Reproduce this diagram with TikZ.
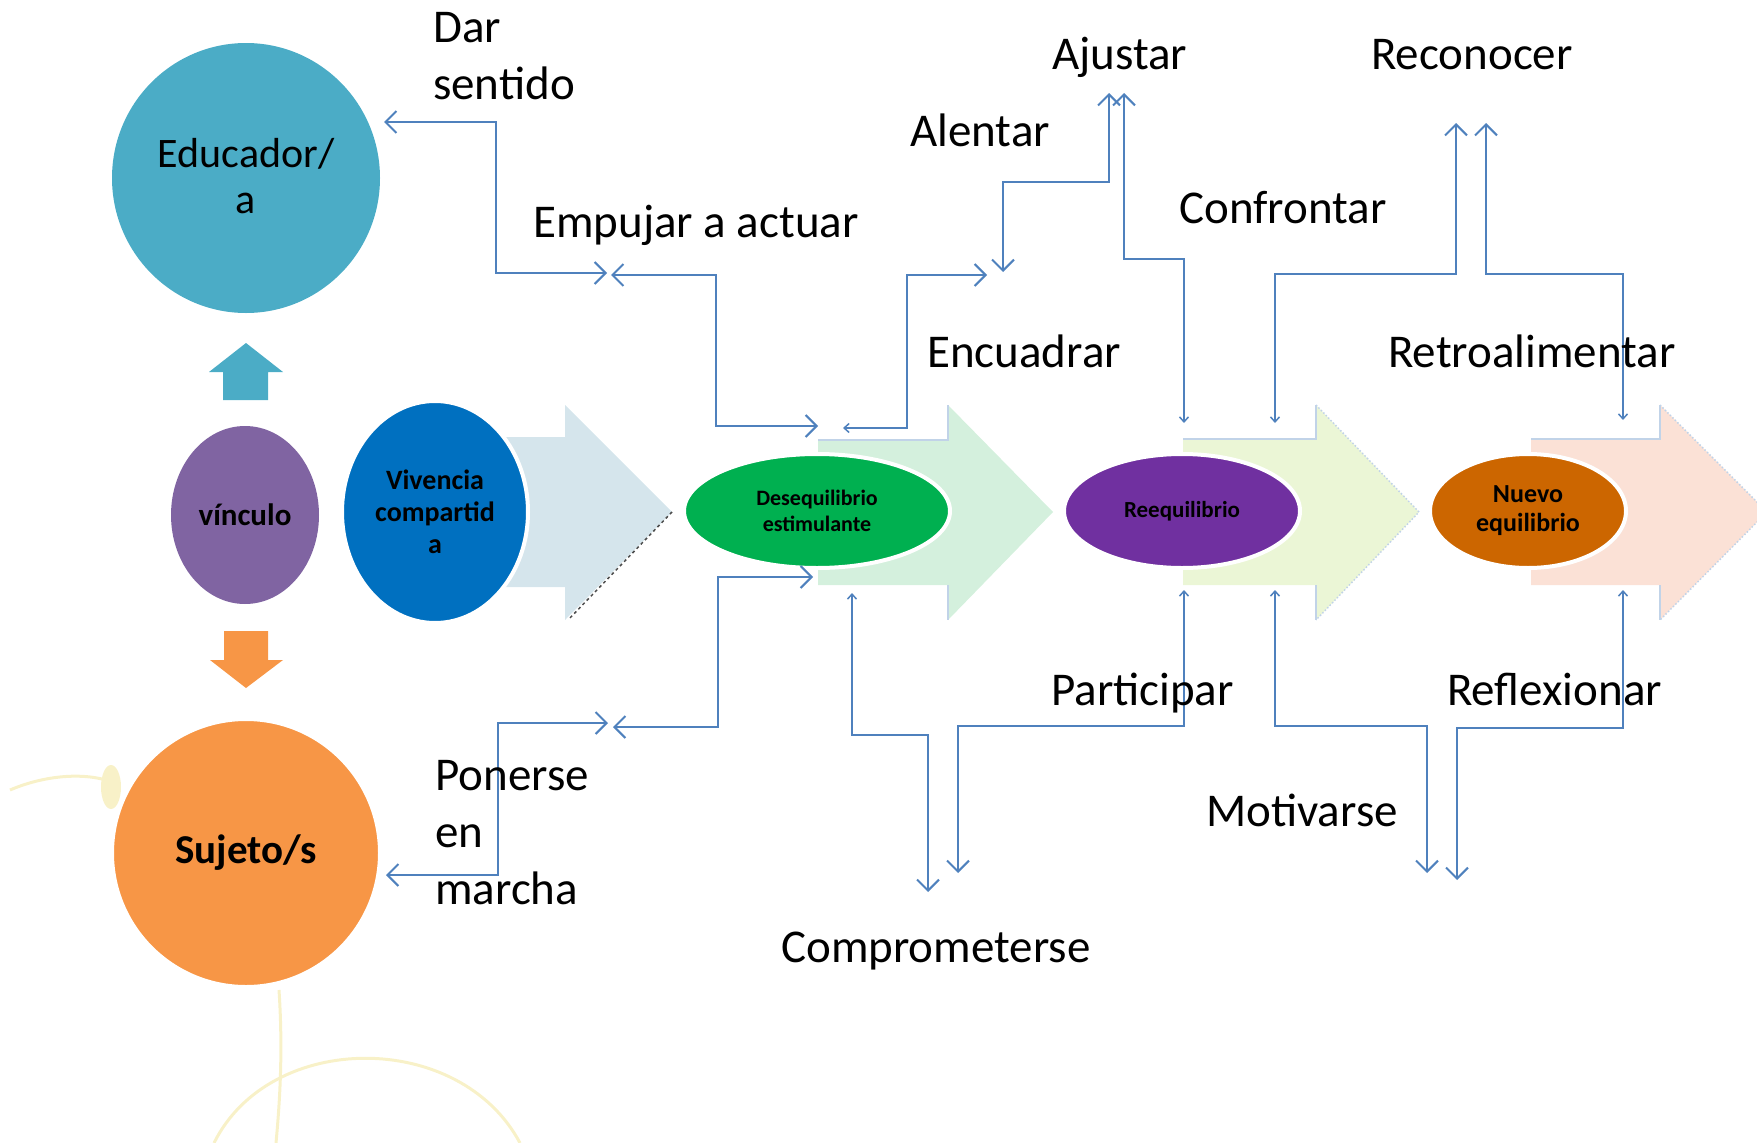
\documentclass[tikz,border=0pt]{standalone}
\usepackage{fontspec}
\setmainfont{Carlito}
\usepackage{tikz}
\usetikzlibrary{arrows.meta,shapes.geometric,calc}

\definecolor{linkblue}{HTML}{4F81BD}
\definecolor{educteal}{HTML}{4BACC6}
\definecolor{vincpurple}{HTML}{8064A2}
\definecolor{sujorange}{HTML}{F79646}
\definecolor{vivblue}{HTML}{0070C0}
\definecolor{desgreen}{HTML}{00B050}
\definecolor{reepurple}{HTML}{7030A0}
\definecolor{nuevobrown}{HTML}{CC6600}
\definecolor{chevA}{HTML}{D5E5EC}
\definecolor{chevB}{HTML}{D4F0DD}
\definecolor{chevC}{HTML}{EBF6D6}
\definecolor{chevD}{HTML}{FBE1D6}
\definecolor{faint}{HTML}{F8F1C8}

\tikzset{
  link/.style={draw=linkblue, line width=2pt},
  Big/.tip={Straight Barb[length=11pt,width=22pt,line width=2pt]},
  Tiny/.tip={Straight Barb[length=5pt,width=9pt,line width=1.5pt]},
  lbl/.style={font=\fontsize{47}{57}\selectfont, inner sep=0pt, anchor=base west, align=left},
  blob/.style={ellipse, draw=white, line width=4pt, inner sep=0pt, align=center},
  chev/.style={draw=linkblue!35, line width=1.5pt},
}

\begin{document}
\begin{tikzpicture}[x=1pt,y=-1pt]
    \useasboundingbox (0,0) rectangle (1757,1143);
    \clip (0,0) rectangle (1757,1143);
    % faint background strokes
    \draw[faint, line width=3pt] (10,790) .. controls (45,775) and (85,772) .. (112,782);
    \fill[faint] (111,787) ellipse (10pt and 22pt);
    \draw[faint, line width=3pt] (279,990) .. controls (283,1050) and (280,1100) .. (276,1143);
    \draw[faint, line width=3pt] (214,1143) .. controls (270,1030) and (460,1030) .. (520,1143);

    % block arrows
    \fill[chevA] (470,437) -- (565,437) -- (565,405) -- (672,512) -- (565,620) -- (565,587) -- (470,587) -- cycle;
    \draw[black!70, dashed, line width=1.5pt] (672,512) -- (568,620);
    \fill[chevB] (818,440) -- (948,440) -- (948,405) -- (1053,512) -- (948,620) -- (948,585) -- (818,585) -- cycle;
    \draw[chev] (818,440) -- (948,440) -- (948,405) (948,585) -- (948,620);
    \fill[chevC] (1183,439) -- (1316,439) -- (1316,405) -- (1419,512) -- (1316,620) -- (1316,585) -- (1183,585) -- cycle;
    \draw[chev] (1183,439) -- (1316,439) -- (1316,405) (1316,585) -- (1316,620);
    \draw[chev, dotted] (1316,405) -- (1419,512) -- (1316,620);
    \fill[chevD] (1531,439) -- (1660,439) -- (1660,405) -- (1767,512) -- (1660,620) -- (1660,585) -- (1531,585) -- cycle;
    \draw[chev] (1531,439) -- (1660,439) -- (1660,405) (1660,585) -- (1660,620);
    \draw[chev, dotted] (1660,405) -- (1767,512) -- (1660,620);

    % up and down arrows
    \fill[educteal] (223,400) -- (223,372) -- (209,372) -- (246,343) -- (283,372) -- (268,372) -- (268,400) -- cycle;
    \fill[sujorange] (224,631) -- (268,631) -- (268,660) -- (283,660) -- (246,688) -- (210,660) -- (224,660) -- cycle;

    % ellipses
    \node[blob, fill=educteal, minimum width=268pt, minimum height=270pt, draw=none] (educ) at (246,178) {};
    \node[font=\fontsize{42}{46}\selectfont, anchor=base, align=center, inner sep=0pt] (educT) at (246,213) {Educador/\\a};
    \node[blob, fill=vincpurple, minimum width=148pt, minimum height=178pt, draw=none,
          font=\fontsize{31}{36}\bfseries\selectfont] (vinc) at (245,515) {vínculo};
    \node[blob, fill=sujorange, minimum width=268pt, minimum height=268pt,
          font=\fontsize{41}{48}\bfseries\selectfont] (suj) at (246,853) {Sujeto/s};
    \node[blob, fill=vivblue, minimum width=186pt, minimum height=222pt,
          font=\fontsize{28}{32}\bfseries\selectfont] (viv) at (435,512) {Vivencia\\compartid\\a};
    \node[blob, fill=desgreen, minimum width=266pt, minimum height=114pt,
          font=\fontsize{22}{26}\bfseries\selectfont] (deseq) at (817,511) {Desequilibrio\\estimulante};
    \node[blob, fill=reepurple, minimum width=236pt, minimum height=114pt,
          font=\fontsize{23}{26}\bfseries\selectfont] (reeq) at (1182,511) {Reequilibrio};
    \node[blob, fill=nuevobrown, minimum width=196pt, minimum height=114pt,
          font=\fontsize{26}{29}\bfseries\selectfont] (nuevo) at (1528,511) {Nuevo\\equilibrio};

    % connector end points
    \coordinate (A1) at (384,122);  \coordinate (A2) at (607,273);
    \coordinate (B1) at (611,275);  \coordinate (B2) at (818,426);
    \coordinate (C1) at (843,428);  \coordinate (C2) at (987,275);
    \coordinate (D1) at (1003,272); \coordinate (D2) at (1109,93);
    \coordinate (E1) at (1124,93);  \coordinate (E2) at (1184,423);
    \coordinate (F1) at (1275,423); \coordinate (F2) at (1456,123);
    \coordinate (G1) at (1486,123); \coordinate (G2) at (1623,420);
    \coordinate (H1) at (386,875);  \coordinate (H2) at (608,723);
    \coordinate (I1) at (613,727);  \coordinate (I2) at (813,577);
    \coordinate (J1) at (852,593);  \coordinate (J2) at (928,892);
    \coordinate (K1) at (958,873);  \coordinate (K2) at (1184,590);
    \coordinate (L1) at (1275,590); \coordinate (L2) at (1427,873);
    \coordinate (M1) at (1457,880); \coordinate (M2) at (1623,590);

    % connectors
    \draw[link, Big-Big] (A1) -| ([xshift=-111pt]A2) -- (A2);
    \draw[link, Big-Big] (B1) -| ([xshift=-102pt]B2) -- (B2);
    \draw[link, Tiny-Big] (C1) -| ([xshift=-80pt]C2) -- (C2);
    \draw[link, Big-Big] (D1) |- ([yshift=-89pt]D2) -- (D2);
    \draw[link, Big-Tiny] (E1) |- ([yshift=164pt]E2) -- (E2);
    \draw[link, Tiny-Big] (F1) |- ([yshift=-151pt]F2) -- (F2);
    \draw[link, Big-Tiny] (G1) |- ([yshift=146pt]G2) -- (G2);
    \draw[link, Big-Big] (H1) -| ([xshift=-110pt]H2) -- (H2);
    \draw[link, Big-Big] (I1) -| ([xshift=-95pt]I2) -- (I2);
    \draw[link, Tiny-Big] (J1) |- ([yshift=157pt]J2) -- (J2);
    \draw[link, Big-Tiny] (K1) |- ([yshift=-136pt]K2) -- (K2);
    \draw[link, Tiny-Big] (L1) |- ([yshift=147pt]L2) -- (L2);
    \draw[link, Big-Tiny] (M1) |- ([yshift=-138pt]M2) -- (M2);

    % labels
    \node[lbl] (dar) at (433,99) {Dar\\sentido};
    \node[lbl] (empujar) at (533,237) {Empujar a actuar};
    \node[lbl] (alentar) at (910,146) {Alentar};
    \node[lbl] (ajustar) at (1052,69) {Ajustar};
    \node[lbl] (reconocer) at (1371,69) {Reconocer};
    \node[lbl] (confrontar) at (1179,223) {Confrontar};
    \node[lbl] (encuadrar) at (927,367) {Encuadrar};
    \node[lbl] (retro) at (1388,367) {Retroalimentar};
    \node[lbl] (ponerse) at (435,904) {Ponerse\\en\\marcha};
    \node[lbl] (participar) at (1051,705) {Participar};
    \node[lbl] (reflexionar) at (1447,705) {Reflexionar};
    \node[lbl] (motivarse) at (1206,826) {Motivarse};
    \node[lbl] (compro) at (781,962) {Comprometerse};
\end{tikzpicture}
\end{document}
